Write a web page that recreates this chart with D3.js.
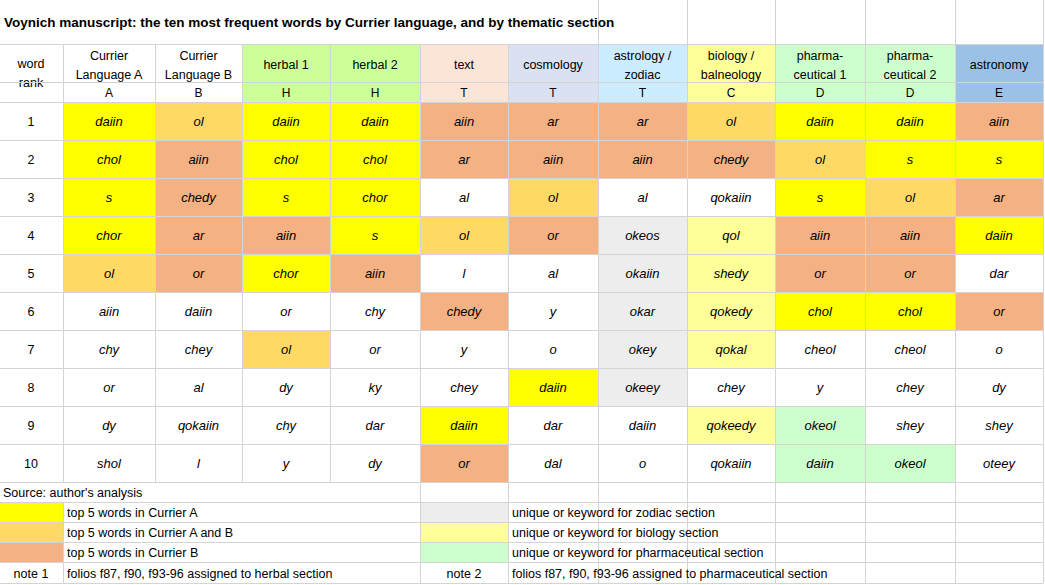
<!DOCTYPE html>
<html><head><meta charset="utf-8">
<script src="https://cdn.jsdelivr.net/npm/d3@7"></script>
<style>body{margin:0;background:#fff}text{font-family:"Liberation Sans",Arial,sans-serif}</style>
</head><body><svg id="c" width="1045" height="585"></svg>
<script>
const title = "Voynich manuscript: the ten most frequent words by Currier language, and by thematic section";
const columns = ["Currier\nLanguage A","Currier\nLanguage B","herbal 1","herbal 2","text","cosmology","astrology /\nzodiac","biology /\nbalneology","pharma-\nceutical 1","pharma-\nceutical 2","astronomy"];
const letters = ["A","B","H","H","T","T","T","C","D","D","E"];
const ranks = [1,2,3,4,5,6,7,8,9,10];
const words = [
 ["daiin","chol","s","chor","ol","aiin","chy","or","dy","shol"],
 ["ol","aiin","chedy","ar","or","daiin","chey","al","qokaiin","l"],
 ["daiin","chol","s","aiin","chor","or","ol","dy","chy","y"],
 ["daiin","chol","chor","s","aiin","chy","or","ky","dar","dy"],
 ["aiin","ar","al","ol","l","chedy","y","chey","daiin","or"],
 ["ar","aiin","ol","or","al","y","o","daiin","dar","dal"],
 ["ar","aiin","al","okeos","okaiin","okar","okey","okeey","daiin","o"],
 ["ol","chedy","qokaiin","qol","shedy","qokedy","qokal","chey","qokeedy","qokaiin"],
 ["daiin","ol","s","aiin","or","chol","cheol","y","okeol","daiin"],
 ["daiin","s","ol","aiin","or","chol","cheol","chey","shey","okeol"],
 ["aiin","s","ar","daiin","dar","or","o","dy","shey","oteey"]
];
const cellCodes = [
 ["Y","Y","Y","Y","O","","","","",""],
 ["O","S","S","S","S","","","","",""],
 ["Y","Y","Y","S","Y","","O","","",""],
 ["Y","Y","Y","Y","S","","","","",""],
 ["S","S","","O","","S","","","Y","S"],
 ["S","S","O","S","","","","Y","",""],
 ["S","S","","G","G","G","G","G","",""],
 ["O","S","","L","L","L","L","","L",""],
 ["Y","O","Y","S","S","Y","","","P","P"],
 ["Y","Y","O","S","S","Y","","","","P"],
 ["S","Y","S","Y","","S","","","",""]
];
const headerFill = ["#fff","#fff","#CCFF99","#CCFF99","#FCE4D6","#D9E1F2","#CCECFF","#FFFF99","#CCFFCC","#CCFFCC","#9BC2E6"];
const palette = {Y:"#FFFF00",O:"#FFD966",S:"#F4B183",G:"#EDEDED",L:"#FFFF99",P:"#CCFFCC","":"#fff"};
const legendLeft = [["Y","top 5 words in Currier A"],["O","top 5 words in Currier A and B"],["S","top 5 words in Currier B"]];
const legendRight = [["G","unique or keyword for zodiac section"],["L","unique or keyword for biology section"],["P","unique or keyword for pharmaceutical section"]];
const source = "Source: author's analysis";
const notes = [["note 1","folios f87, f90, f93-96 assigned to herbal section"],["note 2","folios f87, f90, f93-96 assigned to pharmaceutical section"]];

const svg = d3.select("#c");
const edges = [0,63,155,242,330,420,508,598,687,775,865,955,1043];
const x0 = i => edges[i], w = i => edges[i+1]-edges[i];
const y = d3.scaleBand().domain(ranks).range([102,482]);
const grid = "#D4D4D4";
// header
columns.forEach((c,i)=>{
  const ci=i+1;
  svg.append("rect").attr("x",x0(ci)).attr("y",44).attr("width",w(ci)).attr("height",58).attr("fill",headerFill[i]);
  const lines=c.split("\n");
  lines.forEach((l,k)=>svg.append("text").attr("x",x0(ci)+w(ci)/2).attr("y",(lines.length==1?69:60+k*19)).attr("text-anchor","middle").attr("font-size",12.5).text(l));
  svg.append("text").attr("x",x0(ci)+w(ci)/2).attr("y",97).attr("text-anchor","middle").attr("font-size",12).text(letters[i]);
});
svg.append("text").attr("x",31).attr("y",68).attr("text-anchor","middle").attr("font-size",12.5).text("word");
svg.append("text").attr("x",31).attr("y",87).attr("text-anchor","middle").attr("font-size",12.5).text("rank");
// cells
words.forEach((col,i)=>{
  const ci=i+1;
  col.forEach((wd,r)=>{
    svg.append("rect").attr("x",x0(ci)).attr("y",y(ranks[r])).attr("width",w(ci)).attr("height",y.bandwidth()).attr("fill",palette[cellCodes[i][r]]);
    svg.append("text").attr("x",x0(ci)+w(ci)/2).attr("y",y(ranks[r])+y.bandwidth()/2+5).attr("text-anchor","middle").attr("font-size",13).attr("font-style","italic").text(wd);
  });
});
ranks.forEach(r=>svg.append("text").attr("x",31).attr("y",y(r)+y.bandwidth()/2+5).attr("text-anchor","middle").attr("font-size",12.5).text(r));
// grid lines main
const g=svg.append("g").attr("stroke",grid).attr("stroke-width",1);
[44,82,102,...ranks.map(r=>y(r)),482].forEach(yy=>g.append("line").attr("x1",0).attr("x2",1043).attr("y1",yy+.5).attr("y2",yy+.5));
edges.forEach((e,i)=>{ if(i>0) g.append("line").attr("x1",e+.5).attr("x2",e+.5).attr("y1",44).attr("y2",482); });
[598,687,775,865,955,1043].forEach(e=>g.append("line").attr("x1",e+.5).attr("x2",e+.5).attr("y1",0).attr("y2",44));
svg.append("text").attr("x",4).attr("y",27).attr("font-size",13.5).attr("font-weight","bold").text(title);
// footer
const fy=[482,502,522,542,562,583];
fy.forEach(yy=>g.append("line").attr("x1",0).attr("x2",1043).attr("y1",yy+.5).attr("y2",yy+.5));
[63,420,508,598,687,775,865,955,1043].forEach(e=>{
  const top = (e==63)?502:482;
  g.append("line").attr("x1",e+.5).attr("x2",e+.5).attr("y1",top).attr("y2",583);
});
svg.append("text").attr("x",3).attr("y",497).attr("font-size",12.5).text(source);
legendLeft.forEach((d,k)=>{
  svg.append("rect").attr("x",0).attr("y",fy[k+1]+1).attr("width",63).attr("height",19).attr("fill",palette[d[0]]);
  svg.append("text").attr("x",67).attr("y",fy[k+1]+15).attr("font-size",12.5).text(d[1]);
});
legendRight.forEach((d,k)=>{
  svg.append("rect").attr("x",421).attr("y",fy[k+1]+1).attr("width",87).attr("height",19).attr("fill",palette[d[0]]);
  svg.append("text").attr("x",512).attr("y",fy[k+1]+15).attr("font-size",12.5).text(d[1]);
});
svg.append("text").attr("x",31).attr("y",578).attr("text-anchor","middle").attr("font-size",12.5).text(notes[0][0]);
svg.append("text").attr("x",67).attr("y",578).attr("font-size",12.5).text(notes[0][1]);
svg.append("text").attr("x",464).attr("y",578).attr("text-anchor","middle").attr("font-size",12.5).text(notes[1][0]);
svg.append("text").attr("x",512).attr("y",578).attr("font-size",12.5).text(notes[1][1]);
</script></body></html>
